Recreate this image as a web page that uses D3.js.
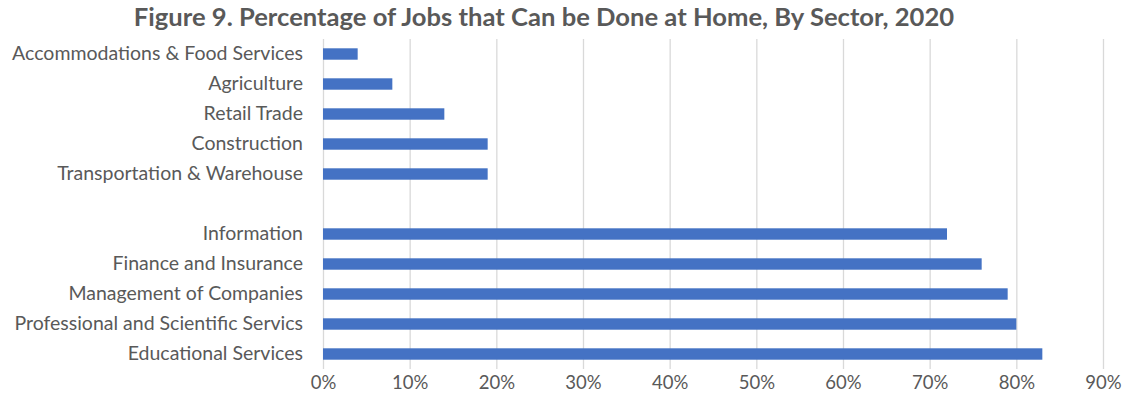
<!DOCTYPE html>
<html>
<head>
<meta charset="utf-8">
<script src="https://cdn.jsdelivr.net/npm/d3@7"></script>
<style>
  body { margin: 0; background: #fff; }
  text { font-family: Lato, "Open Sans", sans-serif; fill: #595959; }
</style>
</head>
<body>
<div id="vis"></div>
<script>
// data, top to bottom ("" is the empty spacer row)
var sectors = ["Accommodations & Food Services", "Agriculture", "Retail Trade", "Construction",
               "Transportation & Warehouse", "", "Information", "Finance and Insurance",
               "Management of Companies", "Professional and Scientific Servics", "Educational Services"];
var pctHome = [4, 8, 14, 19, 19, null, 72, 76, 79, 80, 83];
var xTicks = [0, 10, 20, 30, 40, 50, 60, 70, 80, 90];

var width = 1125, height = 408;
var margin = {top: 39, right: 22, bottom: 39, left: 323};

var svg = d3.select("#vis").append("svg")
    .attr("width", width)
    .attr("height", height);

svg.append("text")
    .attr("x", 544)
    .attr("y", 26)
    .attr("text-anchor", "middle")
    .style("font-size", "25.6px")
    .style("font-weight", "bold")
    .text("Figure 9. Percentage of Jobs that Can be Done at Home, By Sector, 2020");

var x = d3.scaleLinear()
    .domain([0, 90])
    .range([margin.left, width - margin.right]);

var y = d3.scaleBand()
    .domain(sectors)
    .range([margin.top, height - margin.bottom])
    .paddingInner(0.62)
    .paddingOuter(0.31);

// gridlines + percent labels
var xAxis = svg.append("g")
    .attr("transform", "translate(0," + (height - margin.bottom) + ")")
    .call(d3.axisBottom(x).tickValues(xTicks)
        .tickSize(-(height - margin.top - margin.bottom))
        .tickPadding(7)
        .tickFormat(function(d) { return d + "%"; }));
xAxis.select(".domain").remove();
xAxis.selectAll("line").attr("stroke", "#d9d9d9").attr("stroke-width", 1.3);
xAxis.selectAll("text").style("font-size", "18.5px").style("font-family", null);

var rows = sectors.map(function(s, i) { return {name: s, value: pctHome[i]}; });

svg.append("g")
  .selectAll("rect")
    .data(rows.filter(function(d) { return d.value != null; }))
  .enter().append("rect")
    .attr("x", x(0))
    .attr("y", function(d) { return y(d.name); })
    .attr("width", function(d) { return x(d.value) - x(0); })
    .attr("height", y.bandwidth())
    .style("fill", "#4472c4");

var yAxis = svg.append("g")
    .attr("transform", "translate(" + margin.left + ",0)")
    .call(d3.axisLeft(y).tickSize(0).tickPadding(20));
yAxis.select(".domain").remove();
yAxis.selectAll("text").style("font-size", "19.5px").style("font-family", null);
</script>
</body>
</html>
